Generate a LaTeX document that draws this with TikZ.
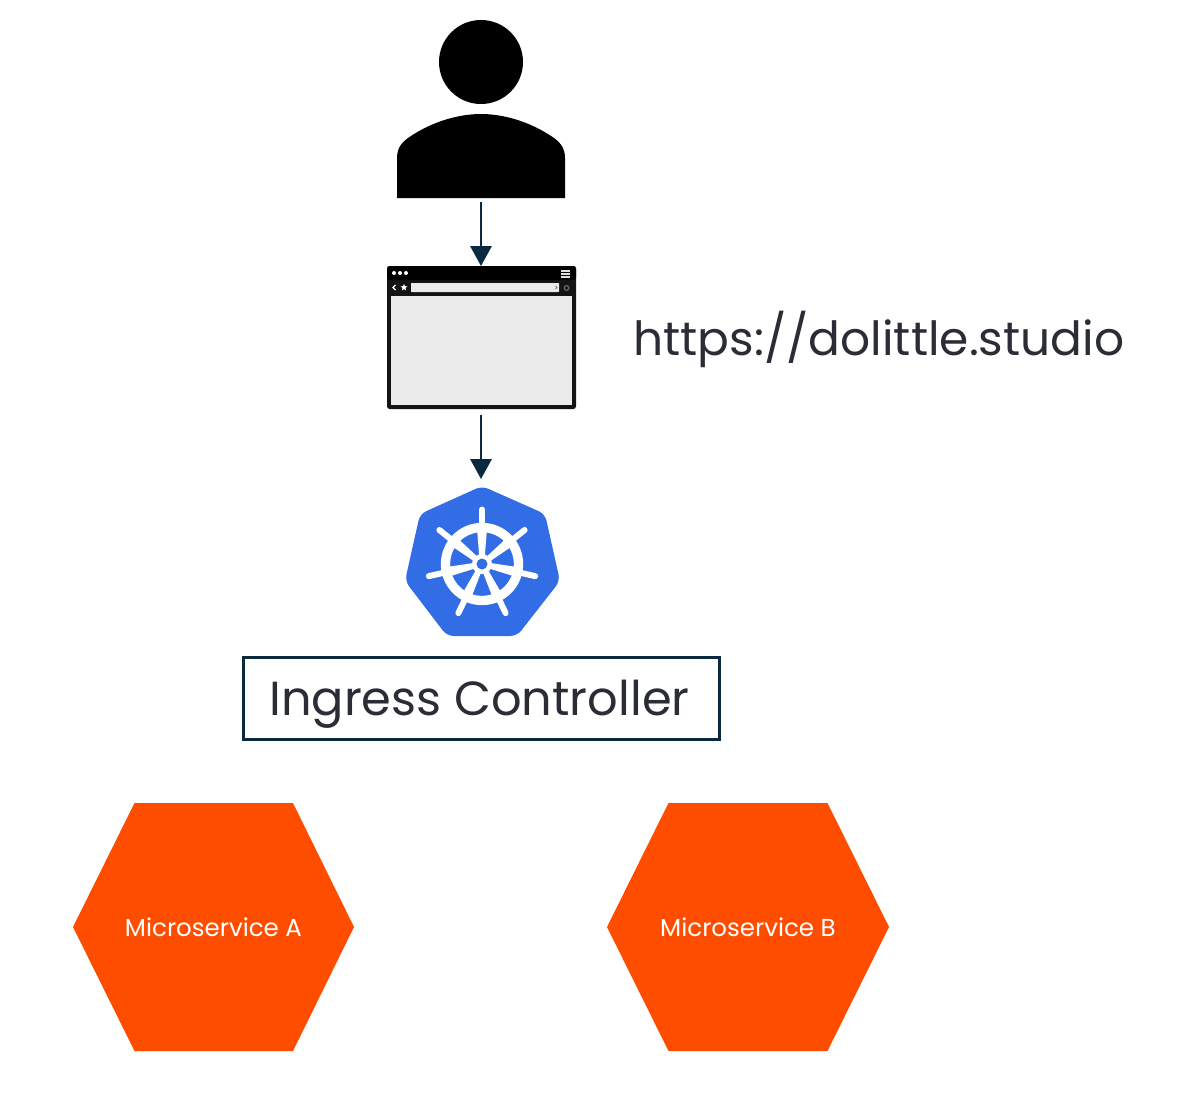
\documentclass[tikz,border=0pt]{standalone}
\usepackage{fontspec}
\setmainfont{Poppins}
\usetikzlibrary{arrows.meta,shapes.geometric}
\definecolor{navy}{HTML}{0B2A3F}
\definecolor{inktext}{HTML}{2B2D36}
\definecolor{kblue}{HTML}{326DE6}
\definecolor{svcorange}{HTML}{FF4D00}
\definecolor{pane}{HTML}{EBEBEB}
\tikzset{
  link/.style={draw=navy,line width=1.7pt,-{Triangle[length=15pt,width=16pt]}},
  slot/.style={inner sep=0pt,outer sep=0pt,minimum width=#1},
  hexfill/.style={fill=svcorange,draw=none},
  svclabel/.style={text=white,font=\fontsize{18.4}{20}\selectfont,inner sep=0pt},
  big/.style={text=inktext,font=\fontsize{#1}{40}\selectfont,inner sep=0pt}
}
\begin{document}
\begin{tikzpicture}[x=0.75pt,y=-0.75pt]
\useasboundingbox (0,0) rectangle (1192,1106);
% person
\fill[black] (481,62) circle (42);
\fill[black] (397,198) -- (397,158) .. controls (397,147) and (403,141) .. (411,136)
  .. controls (432,122) and (458,114) .. (481,114)
  .. controls (504,114) and (530,122) .. (551,136)
  .. controls (559,141) and (565,147) .. (565,158) -- (565,198) -- cycle;
\node[slot=168*0.75pt,minimum height=133.5pt] (user) at (481,109) {};
% browser
\fill[rounded corners=2pt,fill=black!92] (387,266) rectangle (576,409);
\fill[rounded corners=2pt,fill=black] (387,266) rectangle (576,280);
\fill[pane] (391,296) rectangle (572,405);
\fill[rounded corners=0.5pt,fill=pane] (411,283) rectangle (559,292);
\foreach \xx in {394,400,406} \fill[white] (\xx,273) circle (2);
\foreach \yy in {270,273,276} \fill[black!12] (561,\yy) rectangle (570,\yy+1.6);
\draw[white,line width=0.9pt] (395.5,285) -- (393,287.5) -- (395.5,290);
\node[white,star,star points=5,star point ratio=2.3,fill=white,inner sep=0pt,minimum size=5.5pt] (favstar) at (404,287.5) {};
\draw[black!60,line width=0.9pt] (566.5,288) circle (2.4);
\draw[gray,line width=0.6pt] (555.5,286) -- (557,287.5) -- (555.5,289);
\node[slot=189*0.75pt,minimum height=107.25pt] (browser) at (481,337.5) {};
% url
\node[big=35.3,anchor=base west] (url) at (633,355) {https://dolittle.studio};
% kubernetes badge
\fill[kblue,rounded corners=5pt] (482,486) -- (545,514) -- (560,581) -- (517,636) -- (447,636) -- (405,581) -- (420,514) -- cycle;
\node[slot=153*0.75pt,minimum height=111pt] (k8s) at (481,561) {};
\begin{scope}[shift={(482,564)}]
  \draw[white,line width=7pt] (0,0) circle (36.5);
  \foreach \a in {0,51.43,102.86,154.29,205.71,257.14,308.57}{
    \begin{scope}[rotate=\a]
      \fill[white] (-2.2,0) -- (2.2,0) -- (5,-36) -- (-5,-36) -- cycle;
      \draw[white,line width=4.5pt,line cap=round] (0,-38) -- (0,-54.5);
    \end{scope}
  }
  \fill[white] (0,0) circle (10);
  \fill[kblue] (0,0) circle (5.5);
\end{scope}
% ingress
\node[draw=navy,line width=1.7pt,fill=white,minimum width=476*0.75pt,minimum height=82*0.75pt,inner sep=0pt,outer sep=0pt] (ingress) at (481.5,698.5) {};
\node[big=35.9,anchor=base west] (ingresslabel) at (269,715) {Ingress Controller};
% services
\path[hexfill] (73,927) -- (134.5,803) -- (293,803) -- (354,927) -- (293,1051) -- (134.5,1051) -- cycle;
\node[svclabel] (svca) at (213.5,927) {Microservice A};
\path[hexfill] (607,927) -- (668.5,803) -- (827.5,803) -- (889,927) -- (827.5,1051) -- (668.5,1051) -- cycle;
\node[svclabel] (svcb) at (748,927) {Microservice B};
% connectors
\draw[link,shorten <=3pt] (user.south) -- (browser.north);
\draw[link,shorten <=4.5pt,shorten >=6pt] (browser.south) -- (k8s.north);
\end{tikzpicture}
\end{document}
